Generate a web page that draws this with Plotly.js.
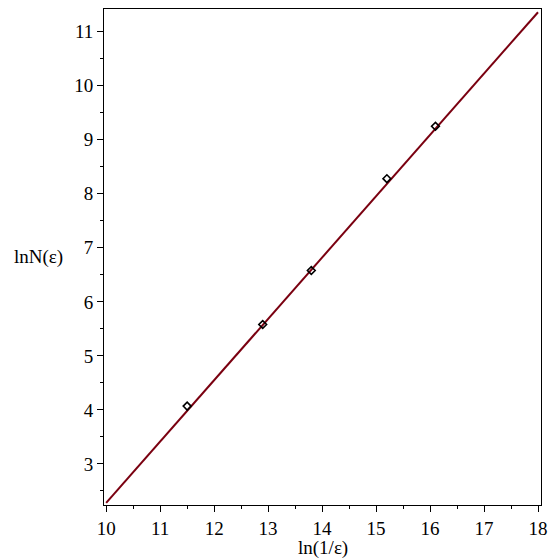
<!DOCTYPE html>
<html>
<head>
<meta charset="utf-8">
<script src="https://cdn.plot.ly/plotly-3.0.1.min.js"></script>
<style>html,body{margin:0;padding:0;background:#fff;}#chart{width:554px;height:559px;}</style>
</head>
<body>
<div id="chart"></div>
<script>
// Data points (ln(1/eps), lnN(eps))
const pointX = [11.5, 12.9, 13.8, 15.2, 16.1];
const pointY = [4.07, 5.58, 6.58, 8.28, 9.25];
// Fitted line endpoints
const lineX = [10, 18];
const lineY = [2.28, 11.36];
const xTickVals = [10, 11, 12, 13, 14, 15, 16, 17, 18];
const yTickVals = [3, 4, 5, 6, 7, 8, 9, 10, 11];

const font = {family: 'Liberation Serif', size: 19, color: '#000'};
const titleFont = {family: 'Liberation Serif', size: 19, color: '#000'};

const traces = [
  {x: lineX, y: lineY, mode: 'lines', type: 'scatter',
   line: {color: '#7a0010', width: 2}, hoverinfo: 'skip'},
  {x: pointX, y: pointY, mode: 'markers', type: 'scatter',
   marker: {symbol: 'diamond-open', size: 6, color: '#000', line: {width: 1.6, color: '#000'}}}
];

const axisCommon = {
  showgrid: false, zeroline: false, showline: true, linecolor: '#000', linewidth: 1,
  mirror: true, ticks: 'outside', ticklen: 6, tickwidth: 1, tickcolor: '#000',
  tickfont: font,
  minor: {ticks: 'outside', ticklen: 3, tickwidth: 1, tickcolor: '#000', dtick: 0.5, showgrid: false}
};

const layout = {
  width: 554, height: 559,
  margin: {l: 104, r: 13, t: 9, b: 54},
  paper_bgcolor: '#fff', plot_bgcolor: '#fff',
  showlegend: false,
  font: font,
  xaxis: Object.assign({}, axisCommon, {range: [9.96, 18.055], tickvals: xTickVals, ticktext: xTickVals.map(String), ticklabelstandoff: 0}),
  yaxis: Object.assign({}, axisCommon, {range: [2.24, 11.42], tickvals: yTickVals, ticktext: yTickVals.map(String), ticklabelstandoff: 0}),
  annotations: [
    {text: 'lnN(ε)', xref: 'paper', yref: 'paper', x: -0.151, y: 0.5, xanchor: 'center', yanchor: 'middle', showarrow: false, font: titleFont},
    {text: 'ln(1/ε)', xref: 'paper', yref: 'paper', x: 0.5, y: -0.0875, xanchor: 'center', yanchor: 'middle', showarrow: false, borderpad: 0, font: titleFont}
  ]
};

Plotly.newPlot('chart', traces, layout, {displayModeBar: false, staticPlot: true});
</script>
</body>
</html>
